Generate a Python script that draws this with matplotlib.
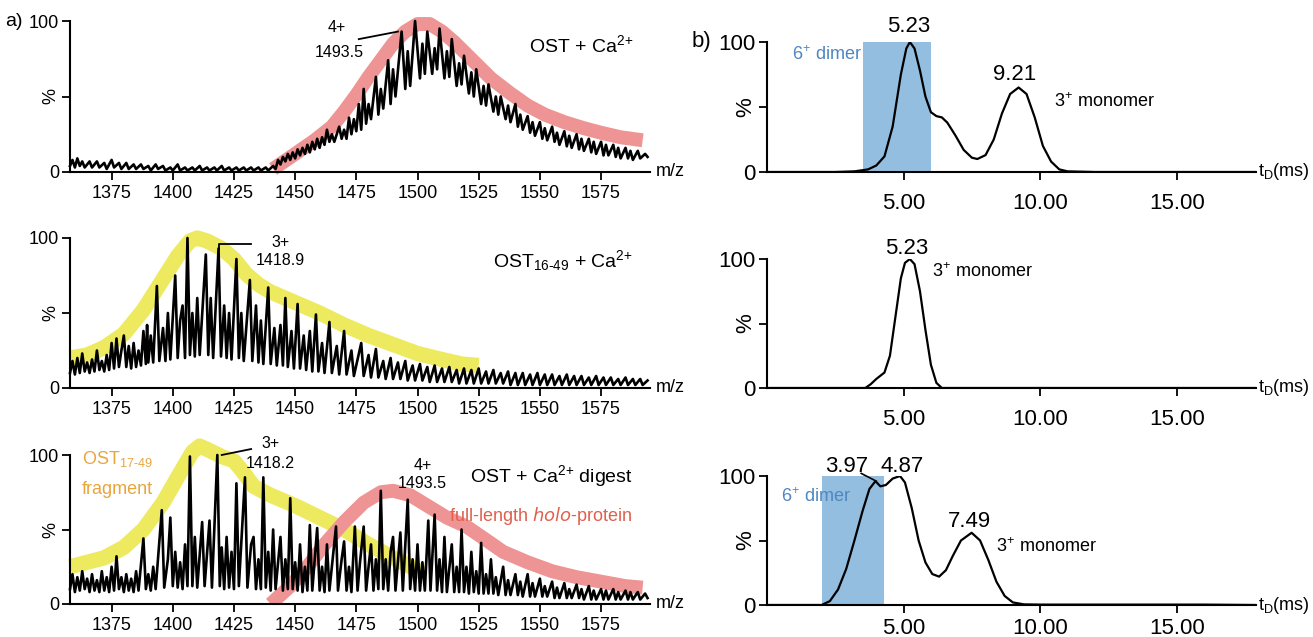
import matplotlib
matplotlib.use("Agg")
import matplotlib.pyplot as plt

plt.rcParams['font.family'] = ['Liberation Sans', 'DejaVu Sans']
plt.rcParams['mathtext.default'] = 'regular'

# ---------------- data: a) mass spectra (m/z, %) ----------------
# OST + Ca2+
mz_ost = [1358, 1359, 1360, 1361, 1362, 1363, 1364, 1366, 1367, 1369, 1370, 1372, 1373, 1375, 1376,
          1378, 1379, 1381, 1382, 1384, 1385, 1387, 1388, 1390, 1391, 1393, 1394, 1396, 1397, 1399,
          1400, 1402, 1403, 1405, 1406, 1408, 1409, 1411, 1412, 1414, 1415, 1417, 1418, 1420, 1421,
          1423, 1424, 1426, 1427, 1429, 1430, 1432, 1433, 1435, 1436, 1438, 1439, 1441, 1442, 1443,
          1444, 1445, 1446, 1447, 1448, 1449, 1450, 1451, 1452, 1453, 1454, 1455, 1456, 1457, 1458,
          1459, 1460, 1461, 1462, 1463, 1464, 1465, 1466, 1468, 1469, 1470, 1471, 1472, 1473, 1474,
          1475, 1476, 1477, 1478, 1479, 1480, 1481, 1483, 1484, 1485, 1486, 1488, 1489, 1490, 1491,
          1493.5, 1495, 1496, 1497, 1499, 1501, 1502, 1503, 1504, 1506, 1507, 1508, 1509, 1511, 1512,
          1513, 1514, 1516, 1517, 1518, 1519, 1521, 1522, 1523, 1524, 1526, 1527, 1528, 1529, 1531,
          1532, 1533, 1534, 1536, 1537, 1538, 1540, 1541, 1542, 1543, 1545, 1546, 1547, 1548, 1550,
          1551, 1552, 1553, 1555, 1556, 1557, 1558, 1560, 1561, 1562, 1563, 1565, 1566, 1567, 1568,
          1570, 1571, 1572, 1573, 1575, 1576, 1577, 1578, 1580, 1581, 1582, 1583, 1585, 1586, 1587,
          1588, 1590, 1591, 1593, 1594]
pct_ost = [4, 8, 3, 9, 4, 7, 3, 7, 3, 7, 3, 6, 2, 8, 3,
           6, 2, 6, 2, 5, 2, 5, 2, 4, 1, 5, 2, 4, 1, 3,
           1, 5, 1, 3, 1, 3, 1, 4, 1, 3, 1, 3, 1, 4, 1,
           3, 1, 3, 1, 3, 1, 3, 1, 3, 1, 3, 1, 4, 2, 8,
           5, 10, 7, 12, 8, 13, 9, 15, 11, 16, 12, 18, 13, 20, 15,
           22, 16, 23, 18, 28, 20, 25, 20, 30, 22, 28, 22, 36, 25, 35,
           27, 45, 28, 55, 32, 45, 35, 63, 38, 55, 42, 74, 45, 68, 50,
           93, 55, 80, 57, 100, 62, 85, 65, 93, 65, 82, 68, 95, 62, 80,
           63, 88, 57, 72, 58, 77, 52, 66, 50, 68, 45, 57, 44, 58, 40,
           50, 38, 50, 35, 44, 33, 45, 30, 38, 28, 37, 26, 33, 24, 33,
           22, 29, 21, 30, 20, 26, 18, 27, 17, 24, 16, 25, 15, 22, 14,
           22, 13, 20, 12, 20, 11, 18, 11, 18, 10, 16, 9, 16, 9, 14,
           8, 14, 9, 12, 10]

# OST16-49 + Ca2+
mz_frag = [1358, 1359, 1360, 1361, 1362, 1363, 1364, 1365, 1366, 1367, 1368, 1369, 1370, 1371, 1372,
           1373, 1374, 1375, 1376, 1377, 1378, 1379, 1380, 1381, 1382, 1383, 1384, 1385, 1386, 1387,
           1388, 1389, 1389.5, 1390, 1391, 1392, 1393.5, 1394.5, 1396, 1397, 1398, 1399, 1401, 1402,
           1403, 1404, 1405, 1406, 1407, 1408, 1409, 1410, 1411, 1413.5, 1414.5, 1415.5, 1416.5,
           1418.7, 1419.7, 1421, 1422, 1423, 1424, 1426, 1427, 1428, 1429, 1431.5, 1432.5, 1434, 1435,
           1436, 1437, 1439, 1440, 1441.5, 1442.5, 1444, 1445, 1446, 1447, 1448.5, 1449.5, 1451, 1452,
           1453.5, 1454.5, 1456, 1457, 1458.5, 1459.5, 1461, 1462, 1464, 1465, 1467, 1468, 1470, 1471,
           1473, 1474, 1477, 1478, 1480, 1481, 1483, 1484, 1486, 1487, 1489, 1490, 1492, 1493, 1495,
           1496, 1498, 1499, 1501, 1502, 1504, 1505, 1507, 1508, 1510, 1511, 1513, 1514, 1516, 1517,
           1519, 1520, 1522, 1523, 1525, 1526, 1528, 1529, 1531, 1532, 1534, 1535, 1537, 1538, 1540,
           1541, 1543, 1544, 1546, 1547, 1549, 1550, 1552, 1553, 1555, 1556, 1558, 1559, 1561, 1562,
           1564, 1565, 1567, 1568, 1570, 1571, 1573, 1574, 1576, 1577, 1579, 1580, 1582, 1583, 1585,
           1586, 1588, 1589, 1591, 1592, 1594]
pct_frag = [10, 18, 9, 20, 10, 23, 11, 17, 10, 19, 11, 25, 12, 18, 11,
            22, 12, 30, 13, 33, 14, 25, 35, 14, 28, 13, 30, 14, 25, 15,
            38, 16, 42, 17, 35, 17, 68, 18, 40, 18, 50, 19, 75, 20,
            45, 55, 20, 100, 22, 50, 21, 60, 22, 89, 22, 60, 20,
            93, 21, 55, 20, 50, 19, 86, 20, 50, 18, 72, 18, 55, 17,
            45, 16, 67, 16, 40, 15, 42, 15, 60, 14, 38, 13, 56, 13,
            35, 12, 38, 11, 49, 11, 30, 10, 44, 10, 28, 9, 38, 9,
            25, 8, 30, 8, 22, 7, 26, 7, 18, 6, 20, 6, 17, 6, 18,
            5, 15, 5, 16, 5, 14, 4, 15, 4, 13, 4, 14, 4, 12, 3,
            13, 3, 12, 3, 13, 3, 11, 3, 12, 3, 10, 3, 11, 2, 10,
            2, 10, 2, 9, 2, 10, 2, 9, 2, 9, 2, 8, 2, 9, 2,
            8, 2, 8, 2, 7, 2, 8, 2, 7, 2, 7, 2, 6, 2, 7,
            2, 6, 2, 6, 2, 5]

# OST + Ca2+ digest
mz_dig = [1358, 1359, 1360, 1361, 1362, 1363, 1364, 1365, 1366, 1367, 1368, 1369, 1370, 1371, 1372,
          1373, 1374, 1375, 1376, 1377, 1378, 1379, 1380, 1381, 1382, 1383, 1384, 1385, 1386, 1388,
          1389, 1390, 1391, 1392, 1393, 1395.5, 1396.5, 1398, 1399, 1400, 1401, 1402, 1403, 1404,
          1405, 1406, 1407, 1408, 1409, 1410, 1412, 1413, 1415, 1416, 1418.2, 1419.2, 1420, 1421,
          1422, 1423, 1424, 1425, 1426, 1427, 1429.5, 1430.5, 1432, 1433, 1434, 1435, 1436, 1437,
          1438, 1439, 1440, 1441, 1442, 1444, 1445, 1446, 1447, 1448, 1449, 1450, 1451, 1452, 1453,
          1454, 1455, 1456, 1457, 1459, 1460, 1461, 1462, 1463, 1464, 1466.7, 1467.5, 1469, 1470,
          1471, 1472, 1473, 1474.4, 1475.5, 1476.5, 1478, 1479, 1480, 1481, 1482, 1483, 1484, 1485,
          1486, 1487, 1488, 1489, 1490, 1491, 1493, 1494, 1496, 1497, 1498, 1499, 1500, 1501, 1502,
          1503, 1504.4, 1505.3, 1507, 1508, 1509, 1510, 1511, 1512, 1514, 1515, 1516, 1517, 1518,
          1519, 1520, 1521, 1522, 1523, 1524, 1525, 1526, 1527, 1528, 1529, 1530, 1531, 1532, 1533,
          1535, 1536, 1537, 1538, 1540, 1541, 1542, 1543, 1545, 1546, 1547, 1548, 1550, 1551, 1552,
          1553, 1555, 1556, 1557, 1558, 1560, 1561, 1562, 1563, 1565, 1566, 1567, 1568, 1570, 1571,
          1572, 1573, 1575, 1576, 1577, 1578, 1580, 1581, 1582, 1583, 1585, 1586, 1587, 1588, 1590,
          1591, 1593, 1594]
pct_dig = [10, 20, 8, 18, 9, 22, 10, 17, 8, 20, 9, 16, 8, 22, 9,
           18, 8, 25, 9, 32, 10, 18, 8, 20, 9, 17, 8, 22, 9, 44,
           10, 20, 9, 25, 10, 63, 11, 30, 58, 12, 35, 11, 28, 10,
           40, 12, 99, 12, 45, 11, 55, 12, 56, 11, 100, 12, 38, 10,
           45, 11, 35, 10, 81, 12, 85, 11, 40, 45, 10, 30, 10, 85,
           11, 35, 9, 50, 10, 45, 9, 30, 10, 71, 10, 28, 9, 40, 8,
           25, 9, 53, 9, 51, 9, 25, 8, 40, 9, 52, 9, 30, 42,
           9, 25, 8, 52, 9, 28, 52, 9, 25, 40, 9, 30, 10, 76,
           10, 30, 9, 35, 45, 9, 48, 9, 70, 10, 30, 9, 40, 9, 28,
           9, 56, 9, 60, 9, 30, 8, 45, 8, 40, 8, 25, 8, 50,
           8, 25, 7, 35, 8, 22, 7, 41, 7, 20, 7, 30, 7, 18, 6,
           25, 6, 16, 6, 20, 6, 15, 5, 20, 5, 14, 5, 17, 5, 12,
           5, 15, 4, 11, 4, 14, 4, 10, 4, 13, 4, 10, 3, 12, 3,
           9, 3, 10, 3, 9, 3, 10, 3, 8, 3, 9, 3, 8, 3, 8,
           3, 7, 4]

# highlighted envelopes
env_ost_mz = [1441, 1450, 1458, 1465, 1470, 1475, 1480, 1485, 1490, 1495, 1500, 1505, 1510, 1515,
              1520, 1525, 1530, 1538, 1545, 1552, 1560, 1568, 1575, 1583, 1592]
env_ost_pct = [2, 12, 21, 30, 40, 51, 63, 74, 85, 93, 98, 98, 93, 86,
               78, 70, 62, 52, 44, 38, 33, 29, 26, 23, 21]
env_frag_mz = [1358, 1365, 1372, 1380, 1388, 1395, 1402, 1407, 1410, 1414, 1420, 1425, 1430, 1435,
               1440, 1450, 1460, 1470, 1480, 1490, 1500, 1510, 1518, 1525]
env_frag_pct = [20, 22, 27, 36, 52, 70, 88, 98, 100, 98, 93, 86, 76, 69,
                64, 57, 50, 42, 35, 29, 23, 19, 16, 15]
env_dig_y_mz = [1358, 1365, 1372, 1380, 1388, 1396, 1403, 1408, 1411, 1415, 1420, 1425, 1429, 1433,
                1440, 1450, 1460, 1470, 1480, 1490, 1502]
env_dig_y_pct = [25, 28, 31, 38, 50, 68, 88, 102, 106, 103, 99, 96, 88, 79,
                 73, 66, 58, 50, 40, 31, 21]
env_dig_r_mz = [1440, 1448, 1455, 1462, 1470, 1478, 1485, 1490, 1497, 1505, 1512, 1520, 1528, 1535,
                1545, 1555, 1565, 1575, 1585, 1592]
env_dig_r_pct = [0, 12, 25, 40, 55, 68, 75, 76, 73, 65, 58, 52, 43, 35,
                 28, 22, 18, 15, 12, 11]

# ---------------- data: b) arrival time distributions (ms, %) ----------------
td_1 = [0, 2.5, 3.2, 3.7, 4.0, 4.3, 4.6, 4.9, 5.1, 5.23, 5.4, 5.6, 5.8, 6.0, 6.2, 6.4, 6.6, 6.9, 7.2,
        7.5, 7.7, 8.0, 8.3, 8.6, 8.9, 9.21, 9.5, 9.8, 10.1, 10.4, 10.7, 11.0, 12, 17.9]
int_1 = [0, 0, 0.5, 2, 5, 12, 35, 75, 95, 100, 95, 78, 58, 46, 43, 42, 38, 28, 17,
         11, 10, 13, 25, 45, 60, 65, 60, 42, 20, 8, 2, 0.5, 0, 0]
td_2 = [0, 3.6, 3.8, 4.0, 4.3, 4.5, 4.7, 4.9, 5.05, 5.23, 5.4, 5.6, 5.8, 6.0, 6.2, 6.4, 17.9]
int_2 = [0, 0, 3, 7, 12, 25, 55, 85, 97, 100, 96, 75, 45, 18, 4, 0, 0]
td_3 = [0, 2.0, 2.3, 2.6, 2.9, 3.2, 3.5, 3.75, 3.97, 4.15, 4.35, 4.6, 4.87, 5.05, 5.3, 5.55, 5.8,
        6.05, 6.3, 6.55, 6.8, 7.1, 7.49, 7.8, 8.1, 8.4, 8.7, 9.0, 9.4, 10, 16, 17.9]
int_3 = [0, 0, 3, 12, 28, 50, 73, 90, 96, 92, 93, 98, 100, 95, 75, 50, 33,
         24, 22, 27, 38, 50, 56, 50, 35, 18, 7, 2, 0.5, 0.3, 0.3, 0]
dimer_1 = (3.5, 6.0)
dimer_3 = (2.0, 4.3)

RED = '#ee9494'
YEL = '#eeea60'
BLUE = '#94bee0'

fig = plt.figure(figsize=(13.13, 6.37), dpi=100)
W, H = 1313, 637


def add_ax(x0, x1, y100, y0):
    return fig.add_axes([x0 / W, 1 - y0 / H, (x1 - x0) / W, (y0 - y100) / H])


def style(ax, fs):
    for s in ['top', 'right']:
        ax.spines[s].set_visible(False)
    for s in ['left', 'bottom']:
        ax.spines[s].set_linewidth(1.5)
    ax.set_ylim(0, 100)
    ax.set_yticks([0, 50, 100])
    ax.set_yticklabels(['0', '%', '100'], fontsize=fs)
    ax.get_yticklabels()[1].set_rotation(90)
    ax.get_yticklabels()[1].set_va('center')
    ax.tick_params(width=1.3, length=6, pad=2)
    ax.patch.set_alpha(0)


# ---- left column ----
rows_a = [(21, 172), (238, 388), (455, 604)]
axa = [add_ax(70, 650, a, b) for a, b in rows_a]
spectra = [(mz_ost, pct_ost), (mz_frag, pct_frag), (mz_dig, pct_dig)]
for ax, (mz, pc) in zip(axa, spectra):
    style(ax, 13)
    ax.set_xlim(1358, 1595)
    ax.set_xticks([1375, 1400, 1425, 1450, 1475, 1500, 1525, 1550, 1575])
    ax.tick_params(axis='x', labelsize=13, pad=3)
    ax.plot(mz, pc, color='black', lw=1.9, zorder=3, clip_on=False)
    ax.text(1.01, 0, 'm/z', transform=ax.transAxes, fontsize=13, va='center', ha='left')

axa[0].plot(env_ost_mz, env_ost_pct, color=RED, lw=10, solid_capstyle='butt', zorder=1, clip_on=False)
axa[1].plot(env_frag_mz, env_frag_pct, color=YEL, lw=11, solid_capstyle='butt', zorder=1, clip_on=False)
axa[2].plot(env_dig_y_mz, env_dig_y_pct, color=YEL, lw=11, solid_capstyle='butt', zorder=1, clip_on=False)
axa[2].plot(env_dig_r_mz, env_dig_r_pct, color=RED, lw=10, solid_capstyle='butt', zorder=1)

axa[0].text(1467, 96, '4+', fontsize=11.5, ha='center', va='center')
axa[0].text(1468, 79, '1493.5', fontsize=11.5, ha='center', va='center')
axa[0].plot([1476, 1492], [88, 93], color='black', lw=1.3)
axa[0].text(1588, 84, 'OST + Ca$^{2{+}}$', fontsize=14, ha='right', va='center')

axa[1].plot([1419, 1419, 1432], [93, 96, 96], color='black', lw=1.3, clip_on=False)
axa[1].text(1444, 97, '3+', fontsize=11.5, ha='center', va='center')
axa[1].text(1444, 85, '1418.9', fontsize=11.5, ha='center', va='center')
axa[1].text(1588, 85, 'OST$_{16\u201049}$ + Ca$^{2{+}}$', fontsize=14, ha='right', va='center')

axa[2].plot([1420, 1432], [100, 104], color='black', lw=1.3, clip_on=False)
axa[2].text(1440, 108, '3+', fontsize=11.5, ha='center', va='center', clip_on=False)
axa[2].text(1440, 94, '1418.2', fontsize=11.5, ha='center', va='center')
axa[2].text(1502, 93, '4+', fontsize=11.5, ha='center', va='center')
axa[2].text(1502, 81, '1493.5', fontsize=11.5, ha='center', va='center')
axa[2].text(1363, 97, 'OST$_{17\u201049}$', fontsize=13, color='#e8a53e', ha='left', va='center')
axa[2].text(1363, 77, 'fragment', fontsize=13, color='#e8a53e', ha='left', va='center')
axa[2].text(1588, 86, 'OST + Ca$^{2{+}}$ digest', fontsize=14, ha='right', va='center')
axa[2].text(1588, 59, 'full-length $\\it{holo}$-protein', fontsize=13, color='#e0604e',
            ha='right', va='center')

fig.text(5 / W, 1 - 21 / H, 'a)', fontsize=14, va='center')

# ---- right column ----
rows_b = [(42, 172), (259, 388), (476, 605)]
pads_b = [9, 9, 3]
axb = [add_ax(767, 1256, a, b) for a, b in rows_b]
atds = [(td_1, int_1), (td_2, int_2), (td_3, int_3)]
for ax, (t, it), pd in zip(axb, atds, pads_b):
    style(ax, 16)
    ax.set_xlim(0, 17.9)
    ax.set_xticks([5, 10, 15])
    ax.set_xticklabels(['5.00', '10.00', '15.00'])
    ax.tick_params(axis='x', labelsize=16, pad=pd)
    ax.plot(t, it, color='black', lw=1.6, zorder=3)
    ax.text(1.005, 0, 't$_{D}$(ms)', transform=ax.transAxes, fontsize=13, va='center', ha='left')

axb[0].axvspan(*dimer_1, color=BLUE, lw=0, zorder=1)
axb[2].axvspan(*dimer_3, color=BLUE, lw=0, zorder=1)

axb[0].text(5.2, 112, '5.23', fontsize=16, ha='center', va='center', clip_on=False)
axb[0].text(9.05, 75, '9.21', fontsize=16, ha='center', va='center')
axb[0].text(10.5, 54, '3$^{+}$ monomer', fontsize=13, ha='left', va='center')
axb[0].text(0.9, 90, '6$^{+}$ dimer', fontsize=13, color='#4f87c2', ha='left', va='center')

axb[1].text(5.1, 108, '5.23', fontsize=16, ha='center', va='center', clip_on=False)
axb[1].text(6.05, 90, '3$^{+}$ monomer', fontsize=13, ha='left', va='center')

axb[2].text(2.9, 107, '3.97', fontsize=16, ha='center', va='center', clip_on=False)
axb[2].plot([3.45, 4.0], [102, 96], color='black', lw=1.2, clip_on=False)
axb[2].text(4.95, 107, '4.87', fontsize=16, ha='center', va='center', clip_on=False)
axb[2].text(7.4, 65, '7.49', fontsize=16, ha='center', va='center')
axb[2].text(8.4, 45, '3$^{+}$ monomer', fontsize=13, ha='left', va='center')
axb[2].text(0.5, 84, '6$^{+}$ dimer', fontsize=13, color='#4f87c2', ha='left', va='center')

fig.text(692 / W, 1 - 42 / H, 'b)', fontsize=16, va='center')

fig.savefig('out.png', dpi=100)
